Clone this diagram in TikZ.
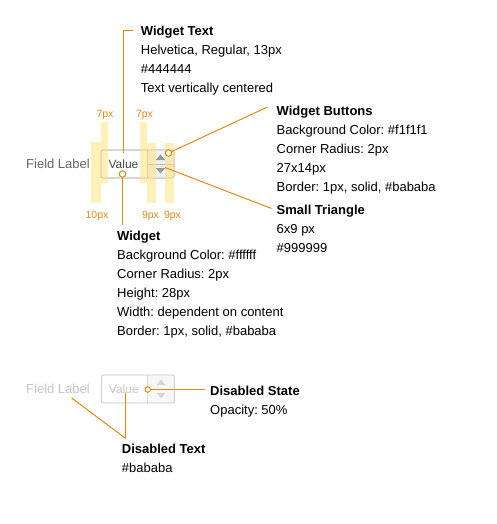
\documentclass[tikz,border=0pt]{standalone}
\usepackage{fontspec}
\setmainfont{Liberation Sans}
\usepackage{xcolor}
\usetikzlibrary{positioning}
\definecolor{markorange}{RGB}{228,138,18}
\definecolor{barfill}{RGB}{255,228,130}
\definecolor{widgetborder}{HTML}{BABABA}
\definecolor{buttonfill}{HTML}{F1F1F1}
\definecolor{trianglegray}{HTML}{999999}
\definecolor{valuetext}{HTML}{444444}
\definecolor{labeltext}{HTML}{666666}
\frenchspacing

\begin{document}
\begin{tikzpicture}[
    x=1pt, y=-1pt,
    note/.style={anchor=north west, align=left, inner sep=0pt, font=\fontsize{13}{19}\selectfont},
    fieldtext/.style={inner sep=0pt, text=labeltext, font=\fontsize{13}{15}\selectfont},
    valuetxt/.style={inner sep=0pt, text=valuetext, font=\fontsize{12}{14}\selectfont},
    widgetbox/.style={draw=widgetborder, fill=white, rounded corners=2pt, line width=0.8pt,
      minimum width=73pt, minimum height=28pt, inner sep=0pt},
    spacebar/.style={fill=barfill, fill opacity=0.55, draw=none},
    pxlabel/.style={inner sep=0pt, text=markorange, font=\fontsize{10.5}{12}\selectfont},
    leader/.style={draw=markorange, line width=1pt},
    dot/.style={circle, draw=markorange, fill=white, line width=1pt, minimum size=6.5pt, inner sep=0pt}
  ]
    \useasboundingbox (0,0) rectangle (497,524);

    % enabled widget
    \node[fieldtext, anchor=east] (field) at (90,164) {Field Label};
    \node[widgetbox] (widget) at (137.5,164) {};
    \fill[buttonfill, rounded corners=2pt] (147,150.4) -- (173.6,150.4) -- (173.6,177.6) -- (147,177.6) -- cycle;
    \draw[widgetborder, line width=0.8pt, rounded corners=2pt] (101,150) rectangle (174,178);
    \draw[widgetborder, line width=0.8pt] (147,150) -- (147,178) (147,164) -- (174,164);
    \fill[trianglegray] (156,160) -- (165,160) -- (160.5,154.5) -- cycle;
    \fill[trianglegray] (156,168) -- (165,168) -- (160.5,173.5) -- cycle;
    \node[valuetxt] (value) at (123.5,164) {Value};

    % spacing marks
    \fill[spacebar] (91,141.7) rectangle (101,203);
    \fill[spacebar] (101,122) rectangle (108,183);
    \fill[spacebar] (140,122) rectangle (147,183);
    \fill[spacebar] (147,143) rectangle (156,203);
    \fill[spacebar] (165,143) rectangle (174,203);
    \node[pxlabel] (gapa) at (105,115) {7px};
    \node[pxlabel] (gapb) at (144.5,115) {7px};
    \node[pxlabel] (gapc) at (97,216) {10px};
    \node[pxlabel] (gapd) at (150.5,216) {9px};
    \node[pxlabel] (gape) at (172.5,216) {9px};

    % notes
    \node[note] (textnote) at (140.7,25.9) {\textbf{Widget Text}\\Helvetica, Regular, 13px\\\#444444\\Text vertically centered};
    \node[note] (buttonnote) at (276.5,105.9) {\textbf{Widget Buttons}\\Background Color: \#f1f1f1\\Corner Radius: 2px\\27x14px\\Border: 1px, solid, \#bababa};
    \node[note] (trianglenote) at (276.5,204.6) {\textbf{Small Triangle}\\6x9 px\\\#999999};
    \node[note] (widgetnote) at (117,230.9) {\textbf{Widget}\\Background Color: \#ffffff\\Corner Radius: 2px\\Height: 28px\\Width: dependent on content\\Border: 1px, solid, \#bababa};

    \coordinate (textend) at (133,30.5);
    \coordinate (textbend) at (123.5,30.5);
    \coordinate (texttop) at (123.5,153);
    \draw[leader] (textend) -- (textbend) -- (texttop);

    \node[dot] (widgetdot) at (122.5,174) {};
    \coordinate (widgetend) at (122.5,225);
    \draw[leader] (widgetdot) -- (widgetend);

    \node[dot] (buttondot) at (168.5,153) {};
    \coordinate (buttonend) at (267.5,107);
    \draw[leader] (buttondot) -- (buttonend);

    \coordinate (triangletip) at (165,167.5);
    \coordinate (triangleend) at (271.5,208.5);
    \draw[leader] (triangletip) -- (triangleend);

    % disabled widget
    \begin{scope}[opacity=0.5]
      \node[fieldtext, anchor=east, text=labeltext!75] (offfield) at (90,389) {Field Label};
      \node[widgetbox] (offwidget) at (138,389) {};
      \fill[buttonfill, rounded corners=2pt] (147.7,375.4) -- (173.9,375.4) -- (173.9,402.6) -- (147.7,402.6) -- cycle;
      \draw[widgetborder, line width=0.8pt, rounded corners=2pt] (101.7,375) rectangle (174.3,403);
      \draw[widgetborder, line width=0.8pt] (147.7,375) -- (147.7,403) (147.7,389) -- (174.3,389);
      \fill[trianglegray!70] (156.5,385) -- (165.5,385) -- (161,379.5) -- cycle;
      \fill[trianglegray!70] (156.5,393) -- (165.5,393) -- (161,398.5) -- cycle;
      \node[valuetxt, text=valuetext!60] (offvalue) at (123.8,389) {Value};
    \end{scope}

    \node[note] (statenote) at (210,386.1) {\textbf{Disabled State}\\Opacity: 50\%};
    \node[note] (disabledtext) at (121.7,443.4) {\textbf{Disabled Text}\\\#bababa};

    \node[dot, minimum size=5.5pt] (statedot) at (147.7,389.5) {};
    \coordinate (stateend) at (205,389.5);
    \draw[leader] (statedot) -- (stateend);

    \coordinate (labelfoot) at (71.7,398);
    \coordinate (valuefoot) at (125.5,392.7);
    \coordinate (disabledjoin) at (125.5,438.3);
    \draw[leader] (labelfoot) -- (disabledjoin) -- (valuefoot);
  \end{tikzpicture}
\end{document}
